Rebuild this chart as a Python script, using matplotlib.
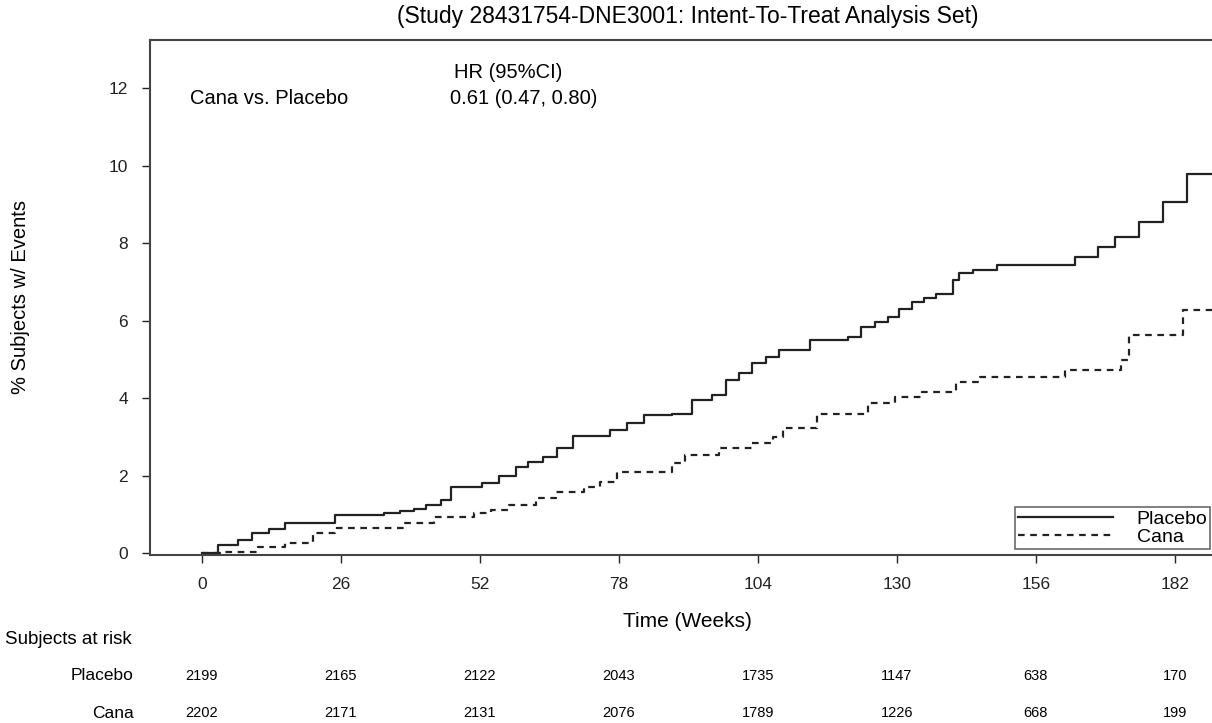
import matplotlib.pyplot as plt
import matplotlib.transforms as mtransforms

plt.rcParams['font.family'] = ['Liberation Sans', 'DejaVu Sans']

# Kaplan-Meier style cumulative event curves (% subjects w/ events)
placebo_t = [0, 3, 6.7, 9.3, 12.5, 15.6, 25, 34, 37, 39.7, 42, 44.7, 46.7, 52.4, 55.5, 58.7,
             61, 63.8, 66.5, 69.5, 76.4, 79.5, 82.8, 87.9, 91.7, 95.4, 98, 100.5, 103,
             105.5, 108, 113.8, 120.8, 123.3, 126, 128.4, 130.5, 132.8, 135, 137.3, 140.5,
             141.7, 144.2, 148.7, 163.3, 167.7, 170.9, 175.3, 179.8, 184.2, 189.5]
placebo_y = [0, 0.2, 0.34, 0.52, 0.62, 0.78, 0.98, 1.03, 1.08, 1.14, 1.24, 1.37, 1.71, 1.8,
             2.0, 2.23, 2.34, 2.49, 2.72, 3.02, 3.17, 3.35, 3.56, 3.6, 3.95, 4.08, 4.46,
             4.65, 4.9, 5.07, 5.24, 5.5, 5.58, 5.84, 5.97, 6.1, 6.3, 6.49, 6.6, 6.7, 7.05,
             7.22, 7.32, 7.43, 7.65, 7.9, 8.16, 8.55, 9.07, 9.8, 9.8]

cana_t = [0, 3.6, 10.5, 15.6, 20.7, 25, 37.8, 43.5, 51, 54, 57.4, 62.5, 66.3, 71.4, 74.5,
          77.7, 87.9, 90.4, 96.7, 103, 106.8, 108.8, 115, 124.6, 129.6, 134.7, 141,
          145.5, 161.4, 172, 173.4, 183.5, 189.5]
cana_y = [0, 0.03, 0.16, 0.25, 0.52, 0.64, 0.77, 0.94, 1.03, 1.12, 1.24, 1.41, 1.58, 1.71,
          1.84, 2.1, 2.32, 2.53, 2.71, 2.83, 3.0, 3.22, 3.6, 3.87, 4.03, 4.16, 4.42,
          4.55, 4.72, 4.98, 5.63, 6.27, 6.27]

week_ticks = [0, 26, 52, 78, 104, 130, 156, 182]
placebo_risk = [2199, 2165, 2122, 2043, 1735, 1147, 638, 170]
cana_risk = [2202, 2171, 2131, 2076, 1789, 1226, 668, 199]

W, H = 1212, 723
fig = plt.figure(figsize=(W / 100, H / 100), dpi=100)
# axes deliberately runs past the right edge like the source image
ax = fig.add_axes([150 / W, 1 - 555 / H, 1075 / W, 515 / H])

ax.step(placebo_t, placebo_y, where='post', color='#222222', lw=1.6, label='Placebo')
ax.step(cana_t, cana_y, where='post', color='#222222', lw=1.6, ls=(0, (3, 2.5)), label='Cana')

ax.set_xlim(-9.7, 191.4)
ax.set_ylim(-0.05, 13.25)
ax.set_xticks(week_ticks)
ax.set_yticks(range(0, 13, 2))
ax.tick_params(labelsize=12.5, length=6, width=1, colors='#222222', pad=10)
for s in ['left', 'top', 'bottom', 'right']:
    ax.spines[s].set_linewidth(1.5)
    ax.spines[s].set_color('#444444')

ax.set_ylabel('% Subjects w/ Events', fontsize=14.5)
ax.yaxis.set_label_coords(-0.112, 0.5)
ax.set_xlabel('Time (Weeks)', fontsize=15)
ax.xaxis.set_label_coords(0.5, -0.111)
ax.set_title('(Study 28431754-DNE3001: Intent-To-Treat Analysis Set)', fontsize=16.5, pad=12)

ax.text(190 / W, 1 - 98 / H, 'Cana vs. Placebo', transform=fig.transFigure,
        fontsize=14.5, va='center')
ax.text(508 / W, 1 - 73 / H, 'HR (95%CI)', transform=fig.transFigure,
        fontsize=14.5, va='center', ha='center')
ax.text(524 / W, 1 - 98 / H, '0.61 (0.47, 0.80)', transform=fig.transFigure,
        fontsize=14.5, va='center', ha='center')

leg = fig.legend(loc='lower left', bbox_to_anchor=(1015 / W, 1 - 549 / H), fontsize=14,
                 frameon=True, fancybox=False, edgecolor='#444444', handlelength=4.9,
                 borderpad=0.15, labelspacing=0.05, handletextpad=1.2, borderaxespad=0)
leg.get_frame().set_linewidth(1.2)

# risk table
trans = mtransforms.blended_transform_factory(ax.transData, fig.transFigure)
fig.text(5 / W, 1 - 640 / H, 'Subjects at risk', fontsize=13.5, va='center')
fig.text(134 / W, 1 - 676 / H, 'Placebo', fontsize=12.5, va='center', ha='right')
fig.text(134 / W, 1 - 713 / H, 'Cana', fontsize=12.5, va='center', ha='right')
for t, p, c in zip(week_ticks, placebo_risk, cana_risk):
    ax.text(t, 1 - 676 / H, str(p), transform=trans, fontsize=10.5, va='center', ha='center')
    ax.text(t, 1 - 713 / H, str(c), transform=trans, fontsize=10.5, va='center', ha='center')

fig.savefig('out.png', dpi=100)
